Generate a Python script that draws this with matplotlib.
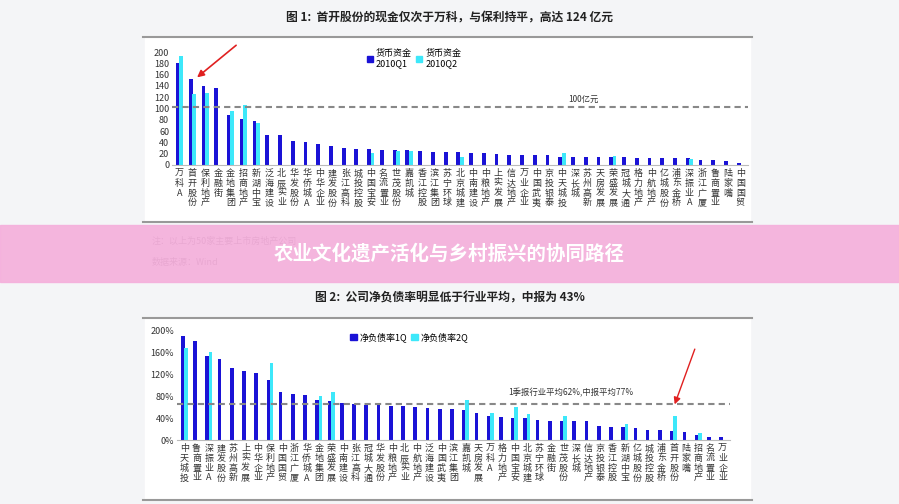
import numpy as np
import matplotlib.pyplot as plt
from matplotlib.patches import Rectangle
from matplotlib.lines import Line2D

plt.rcParams['font.family'] = ['Noto Sans CJK SC', 'DejaVu Sans']

# figure 1: cash holdings (亿元)
cash_names = ['万科A', '首开股份', '保利地产', '金融街', '金地集团', '招商地产', '新湖中宝', '泛海建设',
              '北辰实业', '华发股份', '华侨城A', '中华企业', '建发股份', '张江高科', '城投控股', '中国宝安',
              '名流置业', '世茂股份', '嘉凯城', '香江控股', '滨江集团', '苏宁环球', '北京城建', '中南建设',
              '中粮地产', '上实发展', '信达地产', '万业企业', '中国武夷', '京投银泰', '中天城投', '深长城',
              '苏州高新', '天房发展', '荣盛发展', '冠城大通', '格力地产', '中航地产', '亿城股份', '浦东金桥',
              '深振业A', '浙江广厦', '鲁商置业', '陆家嘴', '中国国贸']
cash_q1 = [180, 152, 140, 136, 88, 82, 77, 53, 53, 43, 41, 38, 33, 30, 29, 28, 27, 27, 26, 24, 23, 23,
           23, 21, 21, 20, 18, 18, 17, 17, 15, 15, 14, 14, 14, 14, 13, 13, 13, 13, 12, 9, 9, 7, 4]
cash_q2 = [193, 125, 128, 0, 95, 107, 74, 0, 0, 0, 0, 0, 0, 0, 0, 22, 0, 25, 25, 0, 0, 0,
           15, 0, 0, 0, 0, 0, 0, 0, 22, 0, 0, 0, 16, 0, 0, 0, 0, 0, 11, 0, 0, 0, 0]

# figure 2: net debt ratio (%)
debt_names = ['中天城投', '鲁商置业', '深振业A', '建发股份', '苏州高新', '上实发展', '中华企业', '保利地产',
              '中国国贸', '浙江广厦', '华侨城A', '金地集团', '荣盛发展', '中南建设', '张江高科', '冠城大通',
              '华发股份', '中粮地产', '北辰实业', '中航地产', '泛海建设', '中国武夷', '滨江集团', '嘉凯城',
              '天房发展', '万科A', '格力地产', '中国宝安', '北京城建', '苏宁环球', '金融街', '世茂股份',
              '深长城', '信达地产', '京投银泰', '香江控股', '新湖中宝', '亿城股份', '城投控股', '浦东金桥',
              '首开股份', '陆家嘴', '招商地产', '名流置业', '万业企业']
debt_1q = [190, 180, 153, 148, 131, 126, 122, 109, 88, 83, 81, 73, 71, 68, 65, 64, 63, 61, 61, 60, 58, 57,
           56, 54, 50, 44, 42, 40, 40, 37, 35, 35, 34, 34, 26, 24, 24, 22, 19, 18, 16, 15, 9, 5, 5]
debt_2q = [168, 0, 160, 0, 0, 0, 0, 140, 0, 0, 0, 80, 87, 0, 0, 0, 0, 0, 0, 0, 0, 0,
           0, 72, 0, 49, 0, 60, 48, 0, 0, 43, 0, 0, 0, 0, 30, 0, 0, 0, 43, 0, 13, 0, 0]

DARK = '#1a12d6'
CYAN = '#3de8fa'
W, H = 899, 504

fig = plt.figure(figsize=(8.99, 5.04), dpi=100)
fig.patch.set_facecolor('#f4f5f7')


def px_axes(x0, y0, x1, y1):
    # pixel box (top-left origin) -> axes
    ax = fig.add_axes([x0 / W, 1 - y1 / H, (x1 - x0) / W, (y1 - y0) / H])
    ax.set_zorder(2)
    return ax


def panel(y0, y1):
    fig.add_artist(Rectangle((145 / W, 1 - y1 / H), 605 / W, (y1 - y0) / H,
                             transform=fig.transFigure, color='white', zorder=-5))
    for y in (y0, y1):
        fig.add_artist(Line2D([143 / W, 752 / W], [1 - y / H] * 2, transform=fig.transFigure,
                              color='#999999', lw=1.5, zorder=-4))


def bars(ax, names, v1, v2):
    x = np.arange(len(names))
    ax.bar(x - 0.13, v1, width=0.3, color=DARK)
    ax.bar(x + 0.13, v2, width=0.3, color=CYAN)
    ax.set_xlim(-0.6, len(names) - 0.4)
    ax.set_xticks(x)
    ax.set_xticklabels(['\n'.join(n) for n in names], fontsize=6.5, linespacing=1.1, color='#333333')
    ax.tick_params(axis='x', length=0, pad=3)
    ax.tick_params(axis='y', labelsize=6.5, length=0, pad=2, labelcolor='#333333')
    for s in ['top', 'right', 'left']:
        ax.spines[s].set_visible(False)
    ax.spines['bottom'].set_color('#bbbbbb')
    ax.set_facecolor('white')


# top chart
panel(37, 222)
fig.text(0.5, 1 - 17 / H, '图 1:  首开股份的现金仅次于万科，与保利持平，高达 124 亿元',
         ha='center', va='center', fontsize=8.5, fontweight='bold', color='#222222')
ax1 = px_axes(172, 52, 748, 165)
bars(ax1, cash_names, cash_q1, cash_q2)
ax1.set_ylim(0, 200)
ax1.set_yticks(range(0, 201, 20))
ax1.axhline(103, color='#888888', ls='--', lw=1.5, dashes=(3, 2))
ax1.text(30.5, 112, '100亿元', fontsize=6, color='#333333')
ax1.annotate('', xy=(1.2, 152), xytext=(4.6, 215), annotation_clip=False,
             arrowprops=dict(arrowstyle='-|>', color='#e02020', lw=1.2, mutation_scale=10))
ax1.legend(handles=[Rectangle((0, 0), 1, 1, color=DARK), Rectangle((0, 0), 1, 1, color=CYAN)],
           labels=['货币资金\n2010Q1', '货币资金\n2010Q2'], ncol=2, frameon=False, fontsize=6.5,
           loc='upper center', bbox_to_anchor=(0.42, 1.1), handlelength=0.7, handletextpad=0.3,
           columnspacing=0.5)

# notes under chart 1 (mostly hidden by banner)
fig.text(152 / W, 1 - 241 / H, '注：以上为50家主要上市房地产公司', fontsize=6.5, color='#444444', va='center')
fig.text(152 / W, 1 - 262 / H, '数据来源：Wind', fontsize=6.5, color='#444444', va='center')

# bottom chart
panel(318, 500)
fig.text(0.5, 1 - 298 / H, '图 2:  公司净负债率明显低于行业平均，中报为 43%',
         ha='center', va='center', fontsize=8.5, fontweight='bold', color='#222222')
ax2 = px_axes(177, 330, 730, 440)
bars(ax2, debt_names, debt_1q, debt_2q)
ax2.set_ylim(0, 200)
ax2.set_yticks(range(0, 201, 40))
ax2.set_yticklabels([f'{v}%' for v in range(0, 201, 40)])
ax2.axhline(66, color='#888888', ls='--', lw=1.5, dashes=(3, 2))
ax2.text(26.5, 82, '1季报行业平均62%,中报平均77%', fontsize=6, color='#333333')
ax2.annotate('', xy=(40.0, 60), xytext=(41.8, 170), annotation_clip=False,
             arrowprops=dict(arrowstyle='-|>', color='#e02020', lw=1.0, mutation_scale=10))
ax2.legend(handles=[Rectangle((0, 0), 1, 1, color=DARK), Rectangle((0, 0), 1, 1, color=CYAN)],
           labels=['净负债率1Q', '净负债率2Q'], ncol=2, frameon=False, fontsize=6.5,
           loc='upper center', bbox_to_anchor=(0.42, 1.05), handlelength=0.7, handletextpad=0.3,
           columnspacing=0.5)

# pink banner overlay
fig.add_artist(Rectangle((0, 1 - 282 / H), 1, 57 / H, transform=fig.transFigure,
                         color='#f5b0dc', alpha=0.93, zorder=10))
fig.text(0.5, 1 - 254 / H, '农业文化遗产活化与乡村振兴的协同路径', ha='center', va='center',
         fontsize=14, fontweight='bold', color='white', zorder=11)

fig.savefig('out.png', dpi=100, facecolor=fig.get_facecolor())
